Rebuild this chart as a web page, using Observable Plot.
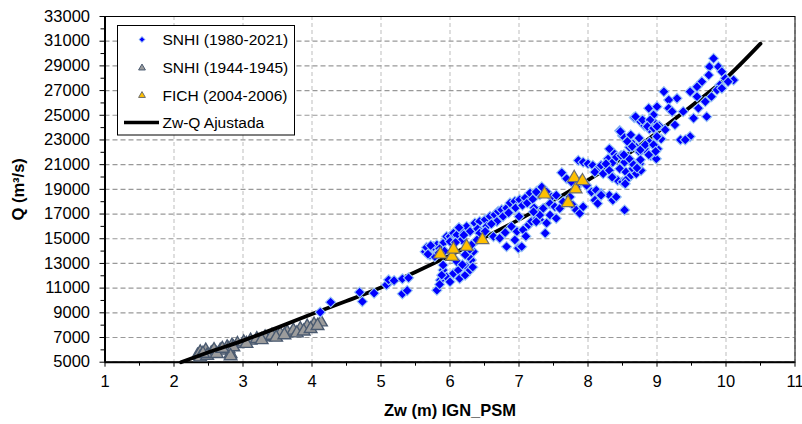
<!DOCTYPE html>
<html><head><meta charset="utf-8">
<script src="https://cdn.jsdelivr.net/npm/d3@7"></script>
<script src="https://cdn.jsdelivr.net/npm/@observablehq/plot@0.6"></script>
<style>
body{margin:0;background:#fff;}
#wrap{position:relative;width:802px;height:424px;}
#wrap svg{position:absolute;left:0;top:0;}
[aria-label="x-axis label"], [aria-label="y-axis label"]{font-weight:bold;}
</style></head><body><div id="wrap"></div>
<script>
// SNHI (1980-2021) : [Zw (m), Q (m3/s)]
const snhi1980 = [
[4.12,9050],[4.27,9860],[4.69,10670],[4.73,9910],[4.90,10590],[5.08,11270],[5.11,11670],[5.19,11610],[5.31,11750],[5.40,11830],[5.31,10540],[5.38,10800],
[5.64,13950],[5.69,14090],[5.71,13680],[5.76,14360],[5.81,14500],[5.78,13550],[5.90,14630],[5.95,15180],[6.00,15180],[6.05,15450],[6.10,15310],[6.00,14770],[6.17,14900],[6.17,15720],[6.24,15990],[6.29,15590],[5.66,14300],[5.72,14450],[5.85,14200],[5.92,14000],[5.68,13750],[5.84,13850],[6.08,14700],[6.20,15300],[6.13,15900],
[5.81,10830],[5.86,11640],[5.90,12460],[5.95,11910],[6.00,11510],[6.05,12190],[6.12,12460],[6.14,11780],[6.22,12050],[6.24,12730],[6.29,12460],[6.31,13270],[6.34,13950],[6.27,13550],[5.90,12870],[6.10,13140],[5.88,12050],[5.85,11300],[6.18,12900],[6.33,12700],[6.28,14100],[6.22,13700],
[6.36,16270],[6.43,16400],[6.51,16540],[6.58,16810],[6.65,16950],[6.70,17220],[6.75,17350],[6.82,17490],[6.87,17900],[6.94,18030],[7.01,18170],[7.09,18310],[7.16,18710],[7.26,18850],[7.30,18580],[6.53,15990],[6.68,16400],[6.77,16810],[6.40,15800],[6.60,16200],[6.85,17100],[6.95,17500],[7.05,17700],[7.12,17900],[7.20,18200],
[6.63,15180],[6.72,15040],[6.82,14360],[6.94,14900],[6.99,14230],[7.04,14360],[6.97,15590],[6.89,15990],[7.06,15720],[7.14,16130],[7.18,16400],[7.26,16670],[7.30,16540],[7.38,15450],[7.40,16270],[6.43,15450],[6.51,15590],[6.39,14900],[6.31,14500],[6.80,15500],[7.10,15200],[7.00,16800],[7.22,17500],
[8.67,24820],[8.75,24550],[8.82,24150],[8.89,23880],[8.96,24420],[9.03,24150],[9.06,23080],[8.46,23750],[8.50,23350],[8.58,22950],[8.65,22680],[8.60,22410],[8.70,22410],[8.75,22010],[8.82,22280],[8.89,22810],[8.96,22540],[9.01,22280],[8.91,21740],[8.99,21470],
[8.36,22010],[8.31,22280],[8.29,21470],[8.36,21200],[8.41,21610],[8.48,21740],[8.53,21200],[8.60,21470],[8.46,20670],[8.55,20400],[8.60,20000],[8.65,20670],[8.70,20940],[8.75,21070],[8.70,20270],[8.77,20530],
[7.86,21340],[7.93,21200],[8.00,21070],[8.07,20940],[8.14,20670],[8.19,20940],[8.26,21070],[8.10,20400],[8.22,20270],[8.31,20530],[8.36,20000],[8.43,19730],[8.50,19600],[8.55,19730],
[7.62,20350],[7.69,19860],[7.76,19600],[7.83,19190],[7.90,19730],[7.98,19330],[8.05,18790],[8.12,18930],[8.19,18660],[8.31,18520],[8.36,18120],[8.41,18390],[8.10,18120],[8.14,17850],[8.19,18520],
[7.25,18790],[7.33,19190],[7.40,18790],[7.47,18390],[7.54,18520],[7.45,17850],[7.52,17590],[7.59,17450],[7.64,17990],[7.74,18390],[7.78,17720],[7.83,17320],[7.88,17050],[7.93,17590],[7.35,17450],[7.30,16920],[7.45,16920],[7.54,16650],[7.21,17180],[7.25,16380],[8.53,17320],
[8.54,19450],[8.35,19980],[8.71,20790],
[9.82,29600],[9.76,28930],[9.89,28930],[9.94,28530],[9.75,28260],[9.99,27990],[10.11,27850],[10.03,27720],[9.91,27450],[9.87,27050],[9.94,27180],[9.65,27720],[9.58,27310],[9.48,26910],[9.58,26510],[9.70,26100],[9.79,26510],[9.60,25570],[9.72,24890],[9.53,24760],[9.38,25300],[9.29,26370],[9.10,26910],[9.17,26240],
[8.88,25570],[8.95,25030],[9.00,25700],[9.17,25570],[9.22,25300],[8.69,24890],[8.79,24620],[8.90,24620],[8.86,24090],[8.95,23950],[9.00,24090],[9.12,23820],[9.26,24220],[9.00,23280],[9.34,23010],[9.48,23280],[9.41,23010],
[8.47,23680],[8.62,23410],[8.57,22880],[8.74,23150],[8.64,22470],[8.76,22200],[8.52,21800],[8.83,22610],[8.95,22610],[8.98,22070],[8.88,21800],[8.76,21400],[8.66,21000],[8.71,20730]
];
// SNHI (1944-1945)
const snhi1944 = [
[2.34,5540],[2.38,5810],[2.46,5950],[2.54,5730],[2.58,6000],[2.67,5950],[2.77,6210],[2.82,5680],[2.84,6350],[2.92,6490],[3.01,6620],[3.11,6760],[3.20,6890],[3.32,7030],[3.42,7160],[3.54,7300],[3.64,7430],[3.73,7570],[3.83,7700],[3.93,7890],[4.03,8050],[4.13,8240],
[2.38,5400],[2.48,5540],[2.62,5680],[2.79,6080],[2.86,6220],[2.82,5500],[3.05,6500],[3.27,6800],[3.48,7000],[3.60,7200],[3.78,7350],[3.88,7500],[3.98,7700],[4.08,7950],[2.42,5700],[2.70,6100]
];
// FICH (2004-2006)
const fich2004 = [
[5.86,13740],[6.03,13550],[6.05,14140],[6.24,14360],[6.47,14900],[7.37,18600],[7.71,17910],[7.80,19940],[7.82,19010],[7.92,19680]
];
// Zw-Q Ajustada
const fitCurve = [
[2.1,5000],[2.5,5800],[3,6750],[3.5,7800],[4,8900],[4.5,9950],[5,11050],[5.5,12300],[6,13650],[6.5,15100],[7,16550],[7.5,18100],[8,19750],[8.5,21550],[9,23600],[9.5,25750],[10,28000],[10.5,30800]
];
const xTicks = [1,2,3,4,5,6,7,8,9,10,11];
const xMinor = [1.5,2.5,3.5,4.5,5.5,6.5,7.5,8.5,9.5,10.5];
const yTicks = [5000,7000,9000,11000,13000,15000,17000,19000,21000,23000,25000,27000,29000,31000,33000];
const yMinor = [6000,8000,10000,12000,14000,16000,18000,20000,22000,24000,26000,28000,30000,32000];
const legendLabels = ["SNHI (1980-2021)","SNHI (1944-1945)","FICH (2004-2006)","Zw-Q Ajustada"];

const toObj = a => a.map(([x,y]) => ({x, y}));

const chart = Plot.plot({
  width: 802, height: 424,
  marginTop: 16, marginRight: 7.5, marginBottom: 62.3, marginLeft: 104.5,
  style: {fontFamily: "Arial, 'Liberation Sans', sans-serif", fontSize: "16.5px", color: "#000", background: "#fff", overflow: "visible"},
  x: {domain: [1, 11]},
  y: {domain: [5000, 33000]},
  marks: [
    Plot.gridX(xTicks, {stroke: "#c8c8c8", strokeOpacity: 1, strokeDasharray: "4,3", strokeWidth: 1.2}),
    Plot.gridY(yTicks, {stroke: "#999", strokeOpacity: 1, strokeDasharray: "5,3", strokeWidth: 1.2}),
    Plot.frame({stroke: "#000", strokeWidth: 1}),
    Plot.axisX(xMinor, {tickSize: 4, tickFormat: () => "", label: null}),
    Plot.axisY(yMinor, {tickSize: 4, tickFormat: () => "", label: null}),
    Plot.axisX(xTicks, {tickSize: 5, tickPadding: 8, tickFormat: d => String(d), label: "Zw (m) IGN_PSM", labelAnchor: "center", labelArrow: "none", labelOffset: 54}),
    Plot.axisY(yTicks, {tickSize: 5, tickPadding: 10, tickFormat: d => String(d), label: "Q (m³/s)", labelAnchor: "center", labelArrow: "none", labelOffset: 93}),
    Plot.ruleX([1], {stroke: "#000", strokeWidth: 2}),
    Plot.ruleY([5000], {stroke: "#000", strokeWidth: 2}),
    Plot.dot(toObj(snhi1944), {x: "x", y: "y", symbol: "triangle", r: 4.7, fill: "#9c9c9c", stroke: "#4a5a70", strokeWidth: 1.4}),
    Plot.line(toObj(fitCurve), {x: "x", y: "y", stroke: "#000", strokeWidth: 3.8, curve: "monotone-x"}),
    Plot.dot(toObj(snhi1980), {x: "x", y: "y", symbol: "diamond2", r: 4.6, fill: "#0000ff", stroke: "#9cc8f5", strokeWidth: 1.1}),
    Plot.dot(toObj(fich2004), {x: "x", y: "y", symbol: "triangle", r: 4.8, fill: "#ffc000", stroke: "#6e6e6e", strokeWidth: 1.2})
  ]
});
const wrap = document.getElementById("wrap");
wrap.appendChild(chart);

// Legend overlay
const leg = d3.create("svg").attr("width", 802).attr("height", 424)
  .style("font-family", "Arial, 'Liberation Sans', sans-serif").style("font-size", "15.5px");
leg.append("rect").attr("x", 117.5).attr("y", 25.5).attr("width", 177).attr("height", 109.5)
  .attr("fill", "#fff").attr("stroke", "#000").attr("stroke-width", 1);
const rowsY = [39.5, 68, 95.5, 122.5];
const sym = [
  {type: d3.symbolDiamond2, size: 22, fill: "#0000ff", stroke: "#9cc8f5"},
  {type: d3.symbolTriangle, size: 20, fill: "#9c9c9c", stroke: "#4a5a70"},
  {type: d3.symbolTriangle, size: 20, fill: "#ffc000", stroke: "#6e6e6e"}
];
sym.forEach((s, i) => {
  leg.append("path").attr("d", d3.symbol(s.type, s.size)())
    .attr("transform", `translate(142,${rowsY[i]})`)
    .attr("fill", s.fill).attr("stroke", s.stroke).attr("stroke-width", 1);
});
leg.append("line").attr("x1", 124).attr("x2", 159).attr("y1", rowsY[3]).attr("y2", rowsY[3])
  .attr("stroke", "#000").attr("stroke-width", 3.5);
legendLabels.forEach((t, i) => {
  leg.append("text").attr("x", 162.5).attr("y", rowsY[i]).attr("dy", "0.35em").attr("fill", "#000").text(t);
});
wrap.appendChild(leg.node());
</script></body></html>
